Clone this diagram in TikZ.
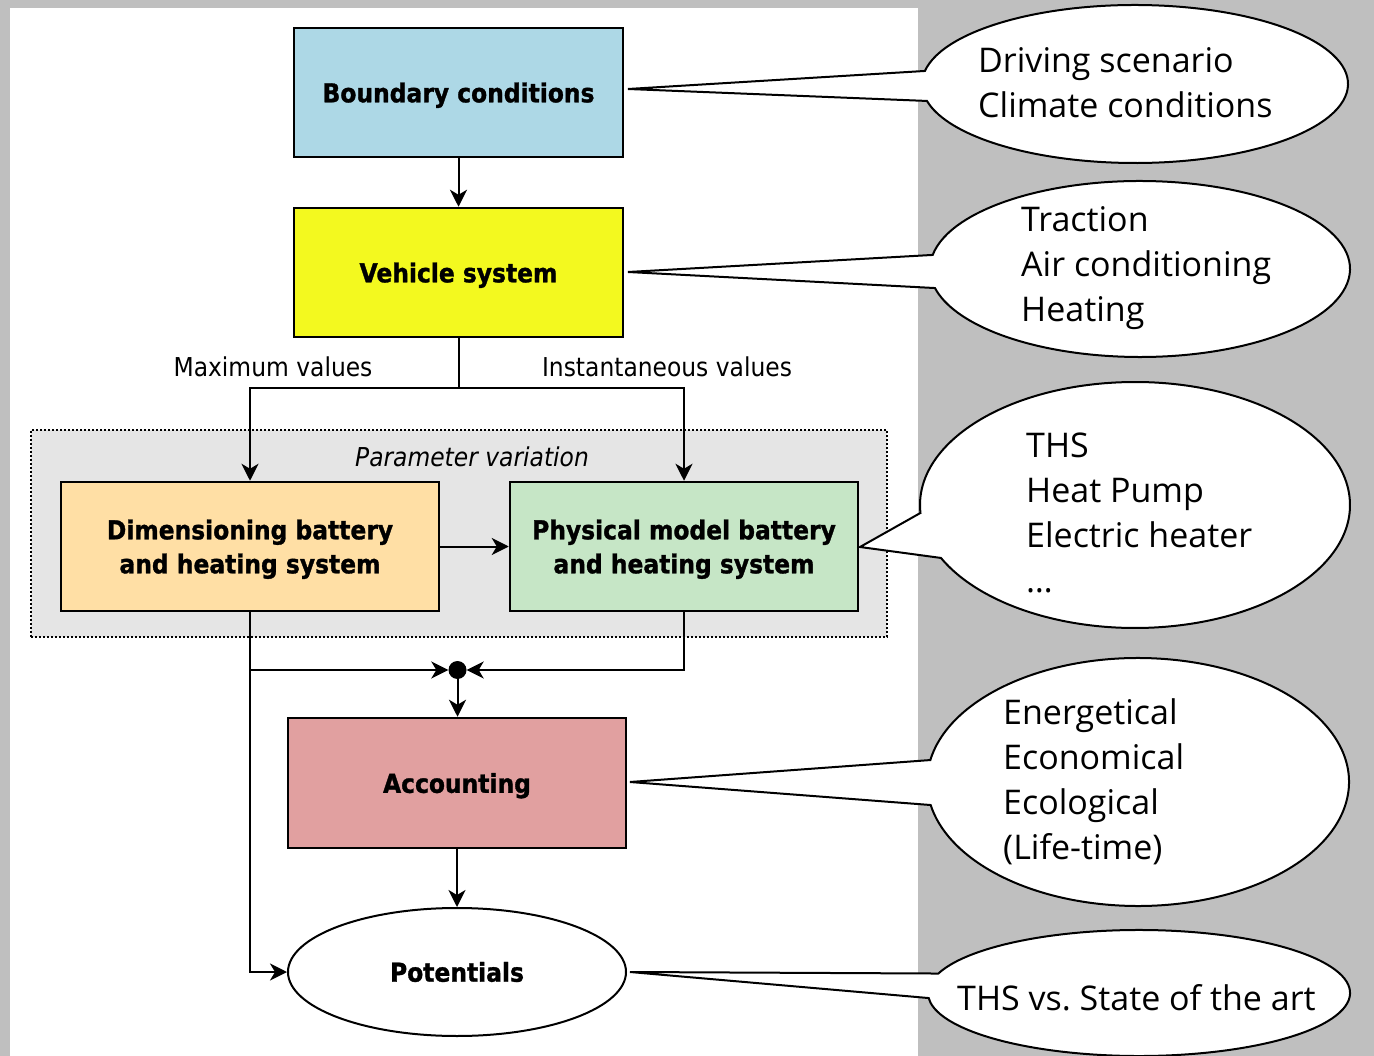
\documentclass[tikz,border=0pt]{standalone}
\usepackage{fontspec}
\usetikzlibrary{arrows.meta,shapes.geometric}
\newfontfamily\boxfont{DejaVu Sans}[FakeStretch=0.9, BoldFeatures={FakeBold=1.2}]
\newfontfamily\calfont{Open Sans}
\definecolor{bgray}{HTML}{BFBFBF}
\definecolor{pgray}{HTML}{E5E5E5}
\definecolor{cblue}{HTML}{ADD8E6}
\definecolor{cyellow}{HTML}{F3F91F}
\definecolor{corange}{HTML}{FFDFA5}
\definecolor{cgreen}{HTML}{C6E6C6}
\definecolor{cred}{HTML}{E1A0A0}
\newcommand\mybt[1]{\raisebox{-3pt}[\height][\depth]{\begin{tabular}{@{}c@{}}#1\end{tabular}}}
\tikzset{
  box/.style={draw, line width=2.5pt, inner sep=0pt,
    font=\boxfont\bfseries\fontsize{26}{34}\selectfont},
  conn/.style={line width=2pt},
  arr/.style={line width=2pt, -{Stealth[length=17pt,width=17pt,inset=5pt]}},
  lbl/.style={inner sep=0pt, font=\boxfont\fontsize{26}{34}\selectfont},
  bubble/.style={draw, fill=white, line width=2pt, line join=miter},
  ctext/.style={inner sep=0pt, align=left, anchor=west,
    font=\calfont\frenchspacing\fontsize{34}{45}\selectfont},
}
\begin{document}
\begin{tikzpicture}[x=1pt,y=-1pt]
\useasboundingbox (0,0) rectangle (1374,1056);
\fill[bgray] (0,0) rectangle (1374,1056);
\fill[white] (10,8) rectangle (918,1056);

% parameter variation frame
\node[draw, fill=pgray, line width=2pt, dash pattern=on 2pt off 2pt,
  minimum width=856pt, minimum height=207pt, inner sep=0pt] (param) at (459,533.5) {};
\node[lbl, font=\boxfont\itshape\fontsize{26}{34}\selectfont] (paramlbl) at (472,457) {Parameter variation};

% main boxes
\node[box, fill=cblue, minimum width=329pt, minimum height=129pt] (bc) at (458.5,92.5) {\mybt{Boundary conditions}};
\node[box, fill=cyellow, minimum width=329pt, minimum height=129pt] (vs) at (458.5,272.5) {\mybt{Vehicle system}};
\node[box, fill=corange, minimum width=378pt, minimum height=129pt] (dim) at (250,546.5) {\mybt{Dimensioning battery\\and heating system}};
\node[box, fill=cgreen, minimum width=348pt, minimum height=129pt] (phys) at (684,546.5) {\mybt{Physical model battery\\and heating system}};
\node[box, fill=cred, minimum width=338pt, minimum height=130pt] (acc) at (457,783) {\mybt{Accounting}};
\node[box, ellipse, fill=white, line width=2pt, minimum width=338pt, minimum height=128pt] (pot) at (457,972) {Potentials};
\node[circle, fill=black, minimum size=18pt, inner sep=0pt] (dot) at (457.5,670) {};

% labels
\node[lbl] (maxv) at (273,367) {Maximum values};
\node[lbl] (instv) at (667,367) {Instantaneous values};

% connectors
\coordinate (split) at (458.5,388);
\draw[arr] (bc) -- (vs);
\draw[conn] (vs.south) -- (split);
\draw[arr] (split) -| (dim.north);
\draw[arr] (split) -| (phys.north);
\draw[arr] (dim.east) -- (phys.west);
\draw[arr] (dim.south) |- (dot.west);
\draw[arr] (dim.south) |- (pot.west);
\draw[arr] (phys.south) |- (dot.east);
\draw[arr] (dot.south) -- (dot.south |- acc.north);
\draw[arr] (acc.south) -- (pot.north);

% callouts
\coordinate (c1) at (1135,84);
\coordinate (t1) at (628,89);
\draw[bubble] (t1) -- ([shift={(170.5:213pt and 79pt)}]c1)
  arc[start angle=170.5, end angle=-167.6, x radius=213pt, y radius=79pt] -- cycle;
\node[ctext] (ct1) at (978,82.5) {Driving scenario\\Climate conditions};

\coordinate (c2) at (1140,269);
\coordinate (t2) at (628,272);
\draw[bubble] (t2) -- ([shift={(170.8:210pt and 88pt)}]c2)
  arc[start angle=170.8, end angle=-167.5, x radius=210pt, y radius=88pt] -- cycle;
\node[ctext] (ct2) at (1021,268) {Traction\\Air conditioning\\Heating};

\coordinate (c3) at (1135,505);
\coordinate (t3) at (860,547);
\draw[bubble] (t3) -- ([shift={(183.7:215pt and 123pt)}]c3)
  arc[start angle=183.7, end angle=-154.5, x radius=215pt, y radius=123pt] -- cycle;
\node[ctext] (ct3) at (1026,513) {THS\\Heat Pump\\Electric heater\\…};

\coordinate (c4) at (1138,782);
\coordinate (t4) at (630,782);
\draw[bubble] (t4) -- ([shift={(169.8:211pt and 124pt)}]c4)
  arc[start angle=169.8, end angle=-169.3, x radius=211pt, y radius=124pt] -- cycle;
\node[ctext] (ct4) at (1003,781.5) {Energetical\\Economical\\Ecological\\(Life-time)};

\coordinate (c5) at (1139,993);
\coordinate (t5) at (630,972);
\draw[bubble] (t5) -- ([shift={(162:211pt and 63pt)}]c5)
  arc[start angle=162, end angle=-175.4, x radius=211pt, y radius=63pt] -- cycle;
\node[ctext] (ct5) at (957,998) {THS vs. State of the art};
\end{tikzpicture}
\end{document}
